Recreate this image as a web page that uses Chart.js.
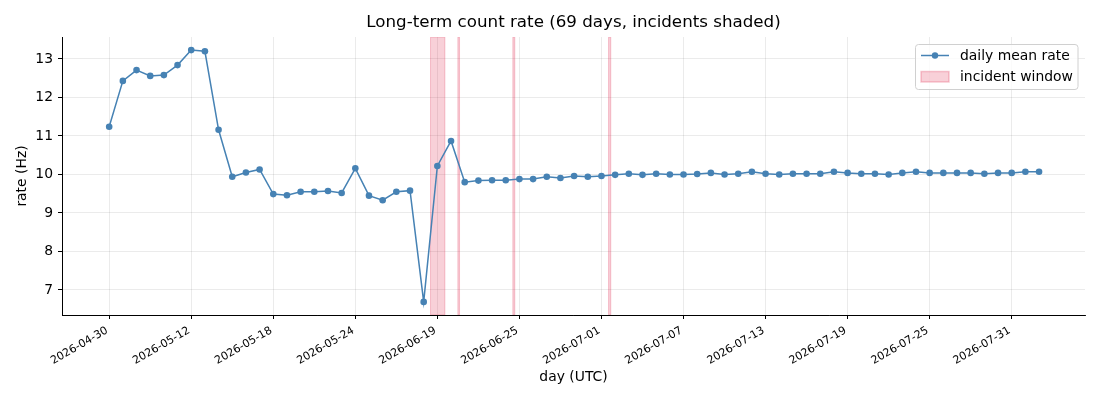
<!DOCTYPE html>
<html>
<head>
<meta charset="utf-8">
<script src="https://cdn.jsdelivr.net/npm/chart.js@4"></script>
<style>
  html, body { margin: 0; padding: 0; background: #fff; }
  #wrap { width: 1100px; height: 400px; }
</style>
</head>
<body>
<div id="wrap"><canvas id="c" width="1100" height="400"></canvas></div>
<script>
const titleText = 'Long-term count rate (69 days, incidents shaded)';
const days = [
  '2026-04-30','2026-05-02','2026-05-04','2026-05-06','2026-05-08','2026-05-10',
  '2026-05-12','2026-05-13','2026-05-14','2026-05-15','2026-05-16','2026-05-17',
  '2026-05-18','2026-05-19','2026-05-20','2026-05-21','2026-05-22','2026-05-23',
  '2026-05-24','2026-06-14','2026-06-15','2026-06-16','2026-06-17','2026-06-18',
  '2026-06-19','2026-06-20','2026-06-21','2026-06-22','2026-06-23','2026-06-24',
  '2026-06-25','2026-06-26','2026-06-27','2026-06-28','2026-06-29','2026-06-30',
  '2026-07-01','2026-07-02','2026-07-03','2026-07-04','2026-07-05','2026-07-06',
  '2026-07-07','2026-07-08','2026-07-09','2026-07-10','2026-07-11','2026-07-12',
  '2026-07-13','2026-07-14','2026-07-15','2026-07-16','2026-07-17','2026-07-18',
  '2026-07-19','2026-07-20','2026-07-21','2026-07-22','2026-07-23','2026-07-24',
  '2026-07-25','2026-07-26','2026-07-27','2026-07-28','2026-07-29','2026-07-30',
  '2026-07-31','2026-08-01','2026-08-02'
];
const rate = [
  11.24,12.43,12.71,12.56,12.58,12.84,13.23,13.20,11.16,9.94,
  10.05,10.13,9.49,9.46,9.55,9.55,9.57,9.52,10.16,9.45,
  9.33,9.55,9.58,6.69,10.22,10.87,9.80,9.84,9.85,9.85,
  9.88,9.88,9.94,9.91,9.96,9.94,9.96,9.99,10.02,9.99,
  10.02,10.00,10.00,10.01,10.04,10.00,10.02,10.07,10.02,10.00,
  10.02,10.02,10.02,10.07,10.04,10.02,10.02,10.00,10.04,10.07,
  10.04,10.04,10.04,10.04,10.02,10.04,10.04,10.07,10.07
];
const xTickIdx = [0,6,12,18,24,30,36,42,48,54,60,66];
const yTicks = [7,8,9,10,11,12,13];
const incidentStart = [23.5, 25.5, 29.52, 36.52];
const incidentEnd   = [24.55, 25.62, 29.66, 36.68];

const FONT = "'DejaVu Sans', 'Liberation Sans', sans-serif";
const LINE = '#4682b4';
const BAND_FILL = 'rgba(220,20,60,0.2)';
const BAND_EDGE = 'rgba(220,20,60,0.22)';

const bandPlugin = {
  id: 'bands',
  beforeDatasetsDraw(chart) {
    const {ctx, chartArea, scales} = chart;
    ctx.save();
    ctx.beginPath();
    ctx.rect(chartArea.left, chartArea.top, chartArea.right - chartArea.left, chartArea.bottom - chartArea.top);
    ctx.clip();
    for (let i = 0; i < incidentStart.length; i++) {
      const x0 = scales.x.getPixelForValue(incidentStart[i]);
      const x1 = scales.x.getPixelForValue(incidentEnd[i]);
      ctx.fillStyle = BAND_FILL;
      ctx.fillRect(x0, chartArea.top, x1 - x0, chartArea.bottom - chartArea.top);
      ctx.strokeStyle = BAND_EDGE;
      ctx.lineWidth = 1;
      ctx.strokeRect(x0, chartArea.top, x1 - x0, chartArea.bottom - chartArea.top);
    }
    ctx.restore();
  }
};

const titlePlugin = {
  id: 'axesTitle',
  afterDraw(chart) {
    const {ctx, chartArea} = chart;
    ctx.save();
    ctx.fillStyle = '#000';
    ctx.font = '16.7px ' + FONT;
    ctx.textAlign = 'center';
    ctx.textBaseline = 'alphabetic';
    ctx.fillText(titleText, (chartArea.left + chartArea.right) / 2, 26.5);
    ctx.restore();
  }
};

const legendPlugin = {
  id: 'customLegend',
  afterDraw(chart) {
    const ctx = chart.ctx;
    const x0 = 915.5, y0 = 44.5, x1 = 1078, y1 = 89.5, r = 3;
    ctx.save();
    ctx.beginPath();
    ctx.moveTo(x0 + r, y0);
    ctx.lineTo(x1 - r, y0); ctx.arcTo(x1, y0, x1, y0 + r, r);
    ctx.lineTo(x1, y1 - r); ctx.arcTo(x1, y1, x1 - r, y1, r);
    ctx.lineTo(x0 + r, y1); ctx.arcTo(x0, y1, x0, y1 - r, r);
    ctx.lineTo(x0, y0 + r); ctx.arcTo(x0, y0, x0 + r, y0, r);
    ctx.closePath();
    ctx.fillStyle = 'rgba(255,255,255,0.8)';
    ctx.fill();
    ctx.strokeStyle = '#d0d0d0';
    ctx.lineWidth = 1;
    ctx.stroke();

    ctx.strokeStyle = LINE;
    ctx.lineWidth = 1.5;
    ctx.beginPath();
    ctx.moveTo(921, 55.5); ctx.lineTo(949, 55.5);
    ctx.stroke();
    ctx.fillStyle = LINE;
    ctx.beginPath();
    ctx.arc(935, 55.5, 3.2, 0, Math.PI * 2);
    ctx.fill();

    ctx.fillStyle = BAND_FILL;
    ctx.fillRect(921, 71.5, 28, 10.5);
    ctx.strokeStyle = BAND_EDGE;
    ctx.strokeRect(921, 71.5, 28, 10.5);

    ctx.fillStyle = '#000';
    ctx.font = '13.9px ' + FONT;
    ctx.textBaseline = 'middle';
    ctx.textAlign = 'left';
    ctx.fillText(chart.data.datasets[0].label, 960, 56.3);
    ctx.fillText('incident window', 960, 77.3);
    ctx.restore();
  }
};

new Chart(document.getElementById('c'), {
  type: 'line',
  data: {
    datasets: [{
      label: 'daily mean rate',
      data: rate.map((v, i) => ({x: i, y: v})),
      borderColor: LINE,
      backgroundColor: LINE,
      borderWidth: 1.5,
      pointRadius: 3.3,
      pointBorderWidth: 0,
      pointBackgroundColor: LINE,
      tension: 0
    }]
  },
  options: {
    responsive: false,
    animation: false,
    devicePixelRatio: 1,
    layout: { padding: { left: 0, right: 15, top: 37, bottom: 0 } },
    plugins: {
      legend: { display: false },
      tooltip: { enabled: false },
      title: { display: false }
    },
    scales: {
      x: {
        type: 'linear',
        min: -3.45,
        max: 71.36,
        afterFit(s) { s.height = 85; },
        afterBuildTicks(s) { s.ticks = xTickIdx.map(v => ({value: v})); },
        ticks: {
          autoSkip: false,
          minRotation: 30,
          maxRotation: 30,
          color: '#000',
          padding: 5,
          labelOffset: -2,
          font: { family: FONT, size: 11 },
          callback: (v) => days[v]
        },
        grid: { color: 'rgba(0,0,0,0.1)', lineWidth: 0.8, tickColor: '#000', tickLength: 4, tickWidth: 1 },
        border: { display: true, color: '#000', width: 1 },
        title: {
          display: true,
          text: 'day (UTC)',
          color: '#000',
          font: { family: FONT, size: 13.9 },
          padding: { top: 14.5, bottom: 14.5 }
        }
      },
      y: {
        type: 'linear',
        min: 6.35,
        max: 13.57,
        afterFit(s) { s.width = 62; },
        afterBuildTicks(s) { s.ticks = yTicks.map(v => ({value: v})); },
        ticks: {
          color: '#000',
          padding: 5,
          font: { family: FONT, size: 13.9 }
        },
        grid: { color: 'rgba(0,0,0,0.1)', lineWidth: 0.8, tickColor: '#000', tickLength: 4, tickWidth: 1 },
        border: { display: true, color: '#000', width: 1 },
        title: {
          display: true,
          text: 'rate (Hz)',
          color: '#000',
          font: { family: FONT, size: 13.9 },
          padding: { top: 14, bottom: 14 }
        }
      }
    }
  },
  plugins: [bandPlugin, titlePlugin, legendPlugin]
});
</script>
</body>
</html>
